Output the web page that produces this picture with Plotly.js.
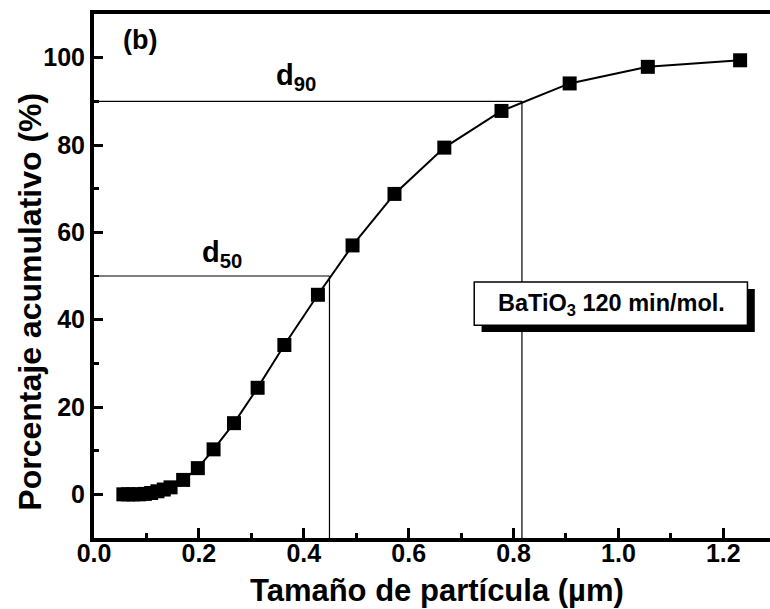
<!DOCTYPE html>
<html>
<head>
<meta charset="utf-8">
<script src="https://cdn.plot.ly/plotly-3.0.1.min.js"></script>
<style>html,body{margin:0;padding:0;background:#fff;}#chart{width:770px;height:609px;}</style>
</head>
<body>
<div id="chart"></div>
<script>
// Particle size (µm) and cumulative percentage (%)
const particleSize = [0.056, 0.065, 0.075, 0.086, 0.097, 0.109, 0.121, 0.133, 0.146, 0.170, 0.198, 0.228, 0.267, 0.312, 0.363, 0.427, 0.493, 0.573, 0.668, 0.777, 0.907, 1.056, 1.232];
const cumulative   = [0.0, 0.0, 0.0, 0.0, 0.1, 0.3, 0.7, 1.1, 1.6, 3.3, 6.0, 10.3, 16.3, 24.4, 34.2, 45.7, 57.0, 68.8, 79.4, 87.8, 94.1, 97.9, 99.4];
const d50 = 0.449, d90 = 0.816;
const xTicks = [0.0, 0.2, 0.4, 0.6, 0.8, 1.0, 1.2];
const yTicks = [0, 20, 40, 60, 80, 100];

const FONT = 'Arial, "Liberation Sans", Helvetica, sans-serif';

const trace = {
  x: particleSize, y: cumulative, type: 'scatter', mode: 'lines+markers',
  line: {color: '#000', width: 2},
  marker: {symbol: 'square', size: 14, color: '#000'},
  showlegend: false, hoverinfo: 'skip'
};

const layout = {
  width: 770, height: 609,
  margin: {l: 94, r: 0, t: 14, b: 71},
  paper_bgcolor: '#fff', plot_bgcolor: '#fff',
  font: {family: FONT, color: '#000'},
  xaxis: {
    range: [0, 1.289], showgrid: false, zeroline: false,
    showline: true, linewidth: 4, linecolor: '#000', mirror: true,
    tickvals: xTicks, ticktext: xTicks.map(v => v.toFixed(1)),
    ticks: 'inside', ticklen: 10, tickwidth: 3, tickcolor: '#000',
    ticklabelstandoff: -10,
    minor: {dtick: 0.1, tick0: 0, ticks: 'inside', ticklen: 5, tickwidth: 3, tickcolor: '#000'},
    tickfont: {family: FONT, size: 25, color: '#000', weight: 'bold'}
  },
  yaxis: {
    range: [-10, 110], showgrid: false, zeroline: false,
    showline: true, linewidth: 4, linecolor: '#000', mirror: false,
    tickvals: yTicks, ticktext: yTicks.map(String),
    ticks: 'inside', ticklen: 9, tickwidth: 3, tickcolor: '#000',
    minor: {dtick: 10, tick0: 0, ticks: 'inside', ticklen: 5, tickwidth: 2.5, tickcolor: '#000'},
    tickfont: {family: FONT, size: 25, color: '#000', weight: 'bold'}
  },
  shapes: [
    {type: 'line', xref: 'x', yref: 'y', x0: 0, x1: d90, y0: 90, y1: 90, line: {color: '#000', width: 1.2}},
    {type: 'line', xref: 'x', yref: 'y', x0: d90, x1: d90, y0: -10, y1: 90, line: {color: '#000', width: 1.2}},
    {type: 'line', xref: 'x', yref: 'y', x0: 0, x1: d50, y0: 50, y1: 50, line: {color: '#000', width: 1.2}},
    {type: 'line', xref: 'x', yref: 'y', x0: d50, x1: d50, y0: -10, y1: 50, line: {color: '#000', width: 1.2}},
    {type: 'rect', xref: 'x', yref: 'y', x0: 0.739, x1: 1.260, y0: 37.2, y1: 47.0, fillcolor: '#000', line: {width: 0}},
    {type: 'rect', xref: 'x', yref: 'y', x0: 0.725, x1: 1.246, y0: 38.7, y1: 48.6, fillcolor: '#fff', line: {color: '#000', width: 1.5}}
  ],
  annotations: [
    {text: '<b>Tamaño de partícula (µm)</b>', xref: 'paper', yref: 'paper', x: 0.507, y: 0, xanchor: 'center', yanchor: 'middle', yshift: -52, showarrow: false, font: {family: FONT, size: 31, color: '#000'}},
    {text: '<b>Porcentaje acumulativo (%)</b>', xref: 'paper', yref: 'paper', x: 0, y: 0.451, xanchor: 'center', yanchor: 'middle', xshift: -64, textangle: -90, showarrow: false, font: {family: FONT, size: 32, color: '#000'}},
    {text: '<b>(b)</b>', xref: 'x', yref: 'y', x: 0.087, y: 104, showarrow: false, font: {family: FONT, size: 27, color: '#000'}},
    {text: '<b>d<sub>90</sub></b>', xref: 'x', yref: 'y', x: 0.385, y: 95.5, showarrow: false, font: {family: FONT, size: 29, color: '#000'}},
    {text: '<b>d<sub>50</sub></b>', xref: 'x', yref: 'y', x: 0.245, y: 55, showarrow: false, font: {family: FONT, size: 29, color: '#000'}},
    {text: '<b>BaTiO<sub>3</sub> 120 min/mol.</b>', xref: 'x', yref: 'y', x: 0.986, y: 43.4, xanchor: 'center', yanchor: 'middle', showarrow: false, font: {family: FONT, size: 23.5, color: '#000'}}
  ]
};

Plotly.newPlot('chart', [trace], layout, {displayModeBar: false, staticPlot: true});
</script>
</body>
</html>
